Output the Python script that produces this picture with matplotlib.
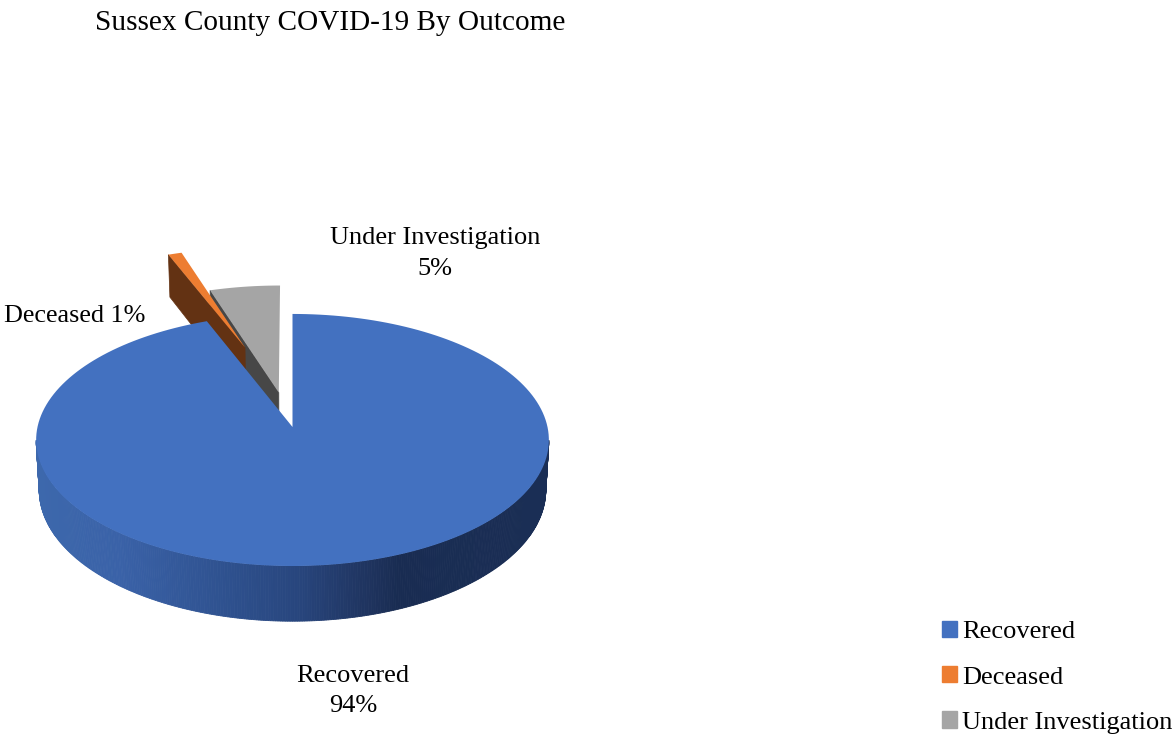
import numpy as np
import matplotlib
matplotlib.use("Agg")
import matplotlib.pyplot as plt
from matplotlib.colors import LinearSegmentedColormap
from matplotlib.patches import Patch

plt.rcParams["font.family"] = ["Liberation Serif", "DejaVu Serif"]

# Data
title = "Sussex County COVID-19 By Outcome"
categories = ["Recovered", "Deceased", "Under Investigation"]
values = [94, 1, 5]
colors = ["#4371C0", "#ED7D31", "#A5A5A5"]
wall_colors = [None, "#633213", "#474747"]
explode = [0.0, 0.71, 0.29]
explode_tilt = [0, 3.5, -2]  # degrees

# Pie geometry in figure pixels
CX, CY = 292.5, 427
RX, RY, K = 255, 124.7, 0.103
DEPTH = 49.5

wall_cmap = LinearSegmentedColormap.from_list(
    "wall", [(0.0, "#3D68AC"), (0.16, "#3A62A8"), (0.36, "#2F5290"), (0.51, "#28467E"),
             (0.65, "#1F345F"), (0.71, "#192C52"), (1.0, "#1A2E55")])


def project(u, v):
    w = 1 + K * v
    return CX + RX * u / w, CY - RY * v / w, w


def lower(u, v):
    x, y, w = project(u, v)
    return CX + (x - CX) * 0.988, y + DEPTH / w


def slice_outline(start, end, dx, dy, func):
    th = np.radians(np.linspace(start, end, 200))
    u = np.r_[dx, dx + np.sin(th)]
    v = np.r_[dy, dy + np.cos(th)]
    res = func(u, v)
    return res[0], res[1]


fig = plt.figure(figsize=(11.74, 7.36), dpi=100)
ax = fig.add_axes([0, 0, 1, 1])
ax.set_xlim(0, 1174)
ax.set_ylim(736, 0)
ax.axis("off")

# slice angles, clockwise from the top
shares = np.array(values) / sum(values) * 360
ends = np.cumsum(shares)
starts = ends - shares

# exploded slices at the back first, biggest slice on top
for i in [2, 1]:
    mid = np.radians((starts[i] + ends[i]) / 2 + explode_tilt[i])
    dx, dy = explode[i] * np.sin(mid), explode[i] * np.cos(mid)
    xb, yb = slice_outline(starts[i], ends[i], dx, dy, lower)
    xt, yt = slice_outline(starts[i], ends[i], dx, dy, project)
    # left cut face of the slice, from centre to start of the arc
    ax.fill([xt[0], xt[1], xb[1], xb[0]], [yt[0], yt[1], yb[1], yb[0]],
            color=wall_colors[i], lw=0.5, zorder=2 + (2 - i))
    ax.fill(xt, yt, color=colors[i], lw=0, zorder=2 + (2 - i))

# side wall of the big slice, from one widest point of the ellipse to the other
th = np.radians(np.linspace(96, 264, 341))
u, v = np.sin(th), np.cos(th)
xt, yt, _ = project(u, v)
xb, yb = lower(u, v)
for j in range(len(th) - 1):
    c = wall_cmap((xt[j] - xt.min()) / (xt.max() - xt.min()))
    ax.fill([xt[j], xt[j + 1], xb[j + 1], xb[j]],
            [yt[j], yt[j + 1], yb[j + 1], yb[j]],
            color=c, lw=0.6, zorder=5)

xt, yt = slice_outline(starts[0], ends[0], 0, 0, project)
ax.fill(xt, yt, color=colors[0], lw=0, zorder=6)

# title and data labels
fig.text(95 / 1174, 1 - 30 / 736, title, fontsize=21.05, color="#000000", va="baseline")

def pct(i):
    return f"{values[i]}%"

ax.text(353, 691, f"{categories[0]}\n{pct(0)}", fontsize=19, ha="center", va="center",
        linespacing=1.5)
ax.text(75, 315.5, f"{categories[1]} {pct(1)}", fontsize=18.8, ha="center", va="center")
ax.text(435, 253.5, f"{categories[2]}\n{pct(2)}", fontsize=19, ha="center", va="center",
        linespacing=1.5)

handles = [Patch(color=c, label=n) for c, n in zip(colors, categories)]
ax.legend(handles=handles, loc="lower left", bbox_to_anchor=(939.5 / 1174, 0), frameon=False,
          fontsize=19, handlelength=0.57, handleheight=0.57, handletextpad=0.2,
          labelspacing=0.865, borderaxespad=0, borderpad=0.08)

plt.savefig("out.png", dpi=100)
plt.close()
